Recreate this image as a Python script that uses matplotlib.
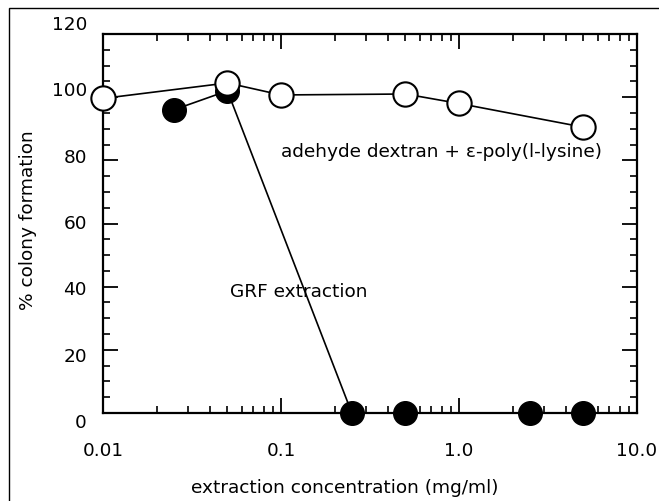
import matplotlib
matplotlib.use("Agg")
import matplotlib.pyplot as plt
from matplotlib.patches import Rectangle
from matplotlib.ticker import FixedLocator, MultipleLocator, LogLocator, NullFormatter
import matplotlib.transforms as mtransforms

plt.rcParams['font.family'] = ['DejaVu Sans']

# Data
open_x = [0.01, 0.05, 0.1, 0.5, 1.0, 5.0]
open_y = [99.6, 104.5, 100.7, 101, 98, 90.5]
filled_x = [0.025, 0.05, 0.25, 0.5, 2.5, 5.0]
filled_y = [96, 102, 0, 0, 0, 0]
xticks = [0.01, 0.1, 1.0, 10.0]
xticklabels = ["0.01", "0.1", "1.0", "10.0"]
yticks = [0, 20, 40, 60, 80, 100, 120]
yticklabels = ["0", "20", "40", "60", "80", "100", "120"]

FS = 13.3

fig = plt.figure(figsize=(6.59, 5.01), dpi=100)
ax = fig.add_axes([103/659, 1-413/501, (637-103)/659, (413-34)/501])

# outer frame
fig.patches.append(Rectangle((9/659, -0.1), 1.2, 1-8/501+0.1, transform=fig.transFigure,
                             fill=False, edgecolor='black', linewidth=1.0, zorder=0))

ax.plot(filled_x, filled_y, color='black', linewidth=1.2, marker='o', markersize=17,
        markerfacecolor='black', markeredgecolor='black', zorder=3, clip_on=False)
ax.plot(open_x, open_y, color='black', linewidth=1.2, marker='o', markersize=17.5,
        markerfacecolor='white', markeredgecolor='black', markeredgewidth=1.5, zorder=4, clip_on=False)

ax.set_xscale('log')
ax.set_xlim(0.01, 10)
ax.set_ylim(0, 120)
ax.xaxis.set_major_locator(FixedLocator(xticks))
ax.set_xticklabels(xticklabels)
ax.xaxis.set_minor_locator(LogLocator(base=10, subs=range(2, 10)))
ax.xaxis.set_minor_formatter(NullFormatter())
ax.yaxis.set_major_locator(FixedLocator(yticks))
ax.yaxis.set_minor_locator(MultipleLocator(5))
ax.set_yticklabels([])

for s in ax.spines.values():
    s.set_linewidth(1.6)

ax.tick_params(which='major', direction='in', length=11, width=1.3, top=True, right=True,
               labelsize=FS)
ax.tick_params(which='minor', direction='in', length=5, width=1.2, top=True, right=True)
ax.tick_params(axis='x', which='major', pad=21)

# y tick labels (spread slightly wider than the ticks, as in the original)
trans = mtransforms.blended_transform_factory(ax.transAxes, ax.transData) + \
    mtransforms.ScaledTranslation(-16/100, 0, fig.dpi_scale_trans)
for v, lab in zip(yticks, yticklabels):
    ax.text(0, -3.2 + 1.05 * v, lab, transform=trans, ha='right', va='center',
            fontsize=FS, clip_on=False)

ax.set_xlabel("extraction concentration (mg/ml)", fontsize=FS)
ax.xaxis.set_label_coords(0.452, -0.174)
ax.set_ylabel("% colony formation", fontsize=FS)
ax.yaxis.set_label_coords(-0.124, 0.51)

ax.text(0.1, 82.5, "adehyde dextran + ε-poly(l-lysine)", fontsize=FS, va='center', ha='left')
ax.text(0.0516, 38.3, "GRF extraction", fontsize=FS, va='center', ha='left')

fig.savefig("out.png", dpi=100)
